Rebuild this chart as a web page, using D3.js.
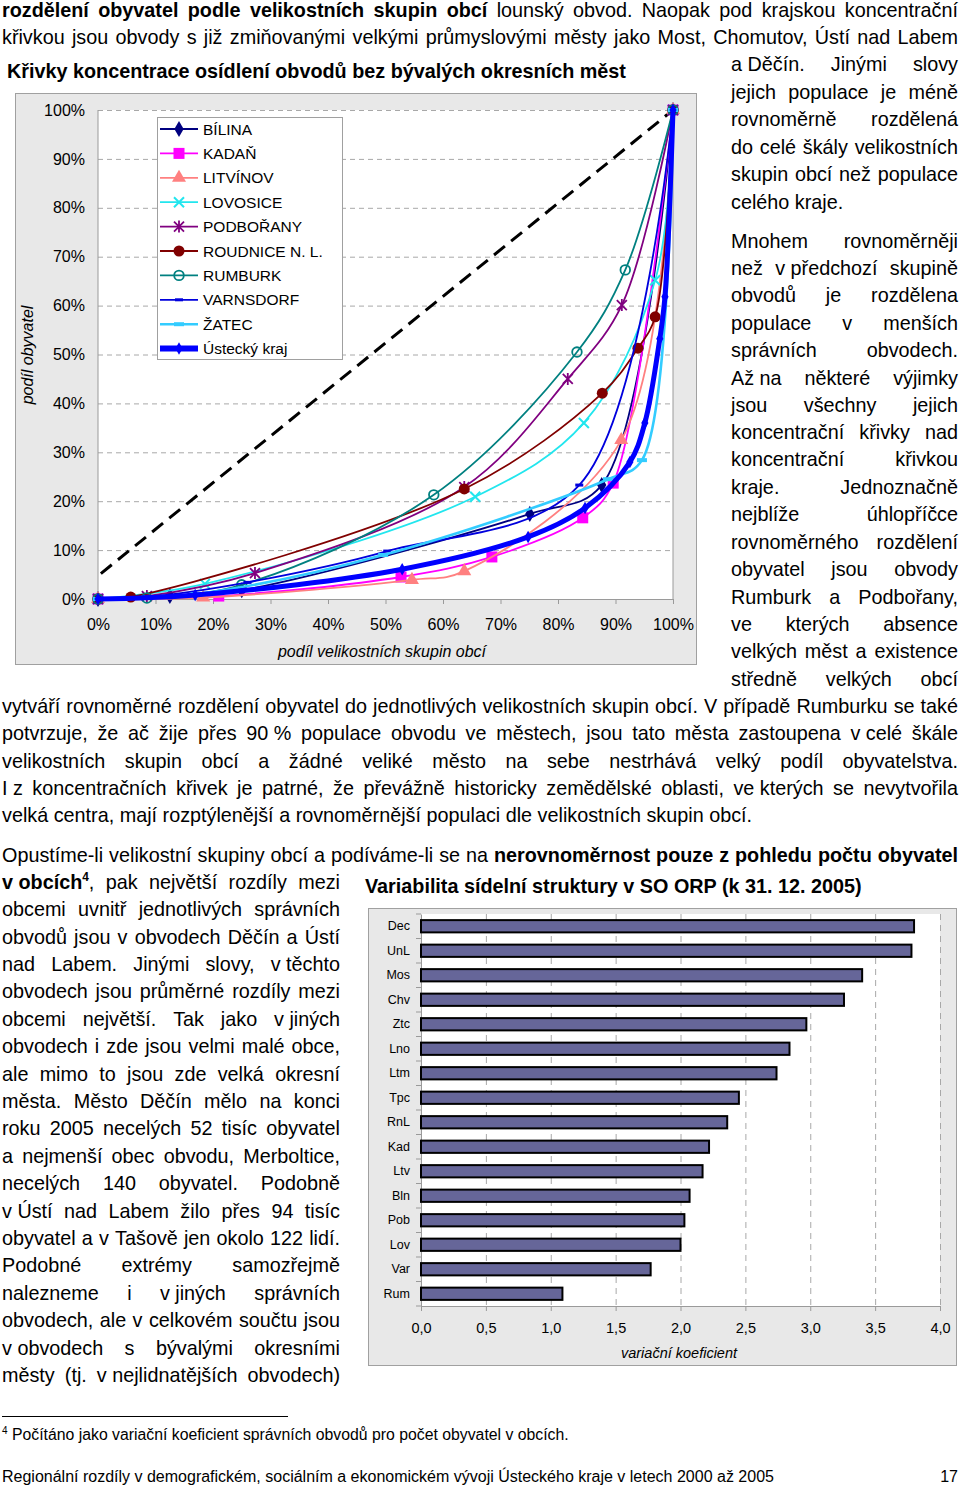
<!DOCTYPE html>
<html>
<head>
<meta charset="utf-8">
<script src="https://cdn.jsdelivr.net/npm/d3@7"></script>
<style>
  body { margin: 0; background: #fff; }
  svg { display: block; font-family: "Liberation Sans", Arial, sans-serif; }
</style>
</head>
<body>
<svg id="page" width="960" height="1486"></svg>
<script>
// ---------- chart 1 data: concentration curves (x = % of size groups, y = % of population)
const pctTicks = [0, 10, 20, 30, 40, 50, 60, 70, 80, 90, 100];
const equalityLine = [[0.5, 5.2], [100, 100]];
const bilina = [[0, 0], [12.5, 0.6], [25, 1.8], [75.1, 17.4], [87.6, 23.3], [100, 100]];
const kadan = [[0, 0], [21, 0.6], [52.7, 4.5], [68.5, 8.6], [84.3, 16.6], [89.6, 23.7], [100, 100]];
const litvinov = [[0, 0], [18.3, 0.3], [54.6, 3.9], [63.7, 5.7], [91, 32.5], [100, 100]];
const lovosice = [[0, 0], [18.6, 3.1], [65.6, 20.9], [84.5, 36], [96.9, 65.2], [100, 100]];
const podborany = [[0, 0], [8.5, 0.6], [27.3, 5.3], [63.7, 22.9], [81.7, 45], [91.1, 60.1], [100, 100]];
const roudnice = [[0, 0], [5.7, 0.4], [63.7, 22.5], [87.7, 42.1], [93.9, 51.3], [96.9, 57.7], [100, 100]];
const rumburk = [[0, 0], [8.5, 0.2], [25, 2.9], [58.4, 21.3], [83.3, 50.5], [91.7, 67.3], [100, 100]];
const varnsdorf = [[0, 0], [8.5, 0.4], [26, 3.4], [50.3, 9.8], [83.7, 23.3], [100, 100]];
const zatec = [[0, 0], [17, 1], [49.6, 9], [88.7, 24.5], [94.6, 28.4], [100, 100]];
const kraj = [[0, 0], [16.9, 0.8], [52.9, 6.1], [74.8, 12.7], [84.7, 18.6], [92.5, 28], [95.1, 36], [97.7, 53.2], [98.6, 61.8], [100, 100]];

// ---------- chart 2 data: variation coefficient by SO ORP
const orpNames = ["Dec", "UnL", "Mos", "Chv", "Ztc", "Lno", "Ltm", "Tpc", "RnL", "Kad", "Ltv", "Bln", "Pob", "Lov", "Var", "Rum"];
const orpValues = [3.80, 3.78, 3.40, 3.26, 2.97, 2.84, 2.74, 2.45, 2.36, 2.22, 2.17, 2.07, 2.03, 2.00, 1.77, 1.09];
const coefTicks = [0, 0.5, 1, 1.5, 2, 2.5, 3, 3.5, 4];

const series = [
  { name: "BÍLINA", data: bilina, color: "#000080", width: 1.8, marker: "diamond" },
  { name: "KADAŇ", data: kadan, color: "#ff00ff", width: 1.8, marker: "square" },
  { name: "LITVÍNOV", data: litvinov, color: "#ff8080", width: 1.8, marker: "triangle" },
  { name: "LOVOSICE", data: lovosice, color: "#22e6ee", width: 1.8, marker: "cross" },
  { name: "PODBOŘANY", data: podborany, color: "#800080", width: 1.8, marker: "star" },
  { name: "ROUDNICE N. L.", data: roudnice, color: "#800000", width: 1.8, marker: "dot" },
  { name: "RUMBURK", data: rumburk, color: "#008080", width: 1.8, marker: "ring" },
  { name: "VARNSDORF", data: varnsdorf, color: "#0000dd", width: 1.8, marker: "dash" },
  { name: "ŽATEC", data: zatec, color: "#33ccff", width: 2.6, marker: "bar" },
  { name: "Ústecký kraj", data: kraj, color: "#0000ff", width: 5, marker: "smalldiamond" }
];

// ---------- body text lines
const B = 19.8; // body font size
const textLines = [
  { x: 2, y: 10, w: 956, j: true, seg: [{ t: "rozdělení obyvatel podle velikostních skupin obcí", b: true }, { t: " lounský obvod. Naopak pod krajskou koncentrační" }] },
  { x: 2, y: 37, w: 956, j: true, seg: [{ t: "křivkou jsou obvody s již zmiňovanými velkými průmyslovými městy jako Most, Chomutov, Ústí nad Labem" }] },
  { x: 731, y: 64, w: 227, j: true, seg: [{ t: "a\u00a0Děčín. Jinými slovy" }] },
  { x: 731, y: 92, w: 227, j: true, seg: [{ t: "jejich populace je méně" }] },
  { x: 731, y: 119, w: 227, j: true, seg: [{ t: "rovnoměrně rozdělená" }] },
  { x: 731, y: 147, w: 227, j: true, seg: [{ t: "do celé škály velikostních" }] },
  { x: 731, y: 174, w: 227, j: true, seg: [{ t: "skupin obcí než populace" }] },
  { x: 731, y: 202, w: 227, j: false, seg: [{ t: "celého kraje." }] },
  { x: 731, y: 241, w: 227, j: true, seg: [{ t: "Mnohem rovnoměrněji" }] },
  { x: 731, y: 268, w: 227, j: true, seg: [{ t: "než v\u00a0předchozí skupině" }] },
  { x: 731, y: 295, w: 227, j: true, seg: [{ t: "obvodů je rozdělena" }] },
  { x: 731, y: 323, w: 227, j: true, seg: [{ t: "populace v menších" }] },
  { x: 731, y: 350, w: 227, j: true, seg: [{ t: "správních obvodech." }] },
  { x: 731, y: 378, w: 227, j: true, seg: [{ t: "Až\u00a0na některé výjimky" }] },
  { x: 731, y: 405, w: 227, j: true, seg: [{ t: "jsou všechny jejich" }] },
  { x: 731, y: 432, w: 227, j: true, seg: [{ t: "koncentrační křivky nad" }] },
  { x: 731, y: 459, w: 227, j: true, seg: [{ t: "koncentrační křivkou" }] },
  { x: 731, y: 487, w: 227, j: true, seg: [{ t: "kraje. Jednoznačně" }] },
  { x: 731, y: 514, w: 227, j: true, seg: [{ t: "nejblíže úhlopříčce" }] },
  { x: 731, y: 542, w: 227, j: true, seg: [{ t: "rovnoměrného rozdělení" }] },
  { x: 731, y: 569, w: 227, j: true, seg: [{ t: "obyvatel jsou obvody" }] },
  { x: 731, y: 597, w: 227, j: true, seg: [{ t: "Rumburk a Podbořany," }] },
  { x: 731, y: 624, w: 227, j: true, seg: [{ t: "ve kterých absence" }] },
  { x: 731, y: 651, w: 227, j: true, seg: [{ t: "velkých měst a existence" }] },
  { x: 731, y: 679, w: 227, j: true, seg: [{ t: "středně velkých obcí" }] },
  { x: 2, y: 706, w: 956, j: true, seg: [{ t: "vytváří rovnoměrné rozdělení obyvatel do jednotlivých velikostních skupin obcí. V případě Rumburku se také" }] },
  { x: 2, y: 733, w: 956, j: true, seg: [{ t: "potvrzuje, že ač žije přes 90\u00a0% populace obvodu ve městech, jsou tato města zastoupena v\u00a0celé škále" }] },
  { x: 2, y: 761, w: 956, j: true, seg: [{ t: "velikostních skupin obcí a žádné veliké město na sebe nestrhává velký podíl obyvatelstva." }] },
  { x: 2, y: 788, w: 956, j: true, seg: [{ t: "I\u00a0z koncentračních křivek je patrné, že převážně historicky zemědělské oblasti, ve\u00a0kterých se nevytvořila" }] },
  { x: 2, y: 815, w: 956, j: false, seg: [{ t: "velká centra, mají rozptýlenější a rovnoměrnější populaci dle velikostních skupin obcí." }] },
  { x: 2, y: 855, w: 956, j: true, seg: [{ t: "Opustíme-li velikostní skupiny obcí a podíváme-li se na " }, { t: "nerovnoměrnost pouze z pohledu počtu obyvatel", b: true }] },
  { x: 2, y: 882, w: 338, j: true, seg: [{ t: "v\u00a0obcích", b: true }, { t: "4", b: true, sup: true }, { t: ", pak největší rozdíly mezi" }] },
  { x: 2, y: 909, w: 338, j: true, seg: [{ t: "obcemi uvnitř jednotlivých správních" }] },
  { x: 2, y: 937, w: 338, j: true, seg: [{ t: "obvodů jsou v obvodech Děčín a Ústí" }] },
  { x: 2, y: 964, w: 338, j: true, seg: [{ t: "nad Labem. Jinými slovy, v\u00a0těchto" }] },
  { x: 2, y: 991, w: 338, j: true, seg: [{ t: "obvodech jsou průměrné rozdíly mezi" }] },
  { x: 2, y: 1019, w: 338, j: true, seg: [{ t: "obcemi největší. Tak jako v\u00a0jiných" }] },
  { x: 2, y: 1046, w: 338, j: true, seg: [{ t: "obvodech i zde jsou velmi malé obce," }] },
  { x: 2, y: 1074, w: 338, j: true, seg: [{ t: "ale mimo to jsou zde velká okresní" }] },
  { x: 2, y: 1101, w: 338, j: true, seg: [{ t: "města. Město Děčín mělo na konci" }] },
  { x: 2, y: 1128, w: 338, j: true, seg: [{ t: "roku 2005 necelých 52 tisíc obyvatel" }] },
  { x: 2, y: 1156, w: 338, j: true, seg: [{ t: "a nejmenší obec obvodu, Merboltice," }] },
  { x: 2, y: 1183, w: 338, j: true, seg: [{ t: "necelých 140 obyvatel. Podobně" }] },
  { x: 2, y: 1211, w: 338, j: true, seg: [{ t: "v\u00a0Ústí nad Labem žilo přes 94 tisíc" }] },
  { x: 2, y: 1238, w: 338, j: true, seg: [{ t: "obyvatel a v Tašově jen okolo 122 lidí." }] },
  { x: 2, y: 1265, w: 338, j: true, seg: [{ t: "Podobné extrémy samozřejmě" }] },
  { x: 2, y: 1293, w: 338, j: true, seg: [{ t: "nalezneme i v\u00a0jiných správních" }] },
  { x: 2, y: 1320, w: 338, j: true, seg: [{ t: "obvodech, ale v celkovém součtu jsou" }] },
  { x: 2, y: 1348, w: 338, j: true, seg: [{ t: "v\u00a0obvodech s bývalými okresními" }] },
  { x: 2, y: 1375, w: 338, j: true, seg: [{ t: "městy (tj. v\u00a0nejlidnatějších obvodech)" }] }
];

const page = d3.select("#page");

// lay out one line: split into words, measure them, spread them over the width
function layoutLine(L, size) {
  const groups = [[]];
  L.seg.forEach(s => {
    s.t.split(" ").forEach((p, i) => {
      if (i > 0) groups.push([]);
      if (p.length) groups[groups.length - 1].push({ t: p, b: s.b, sup: s.sup });
    });
  });
  const words = groups.filter(g => g.length);
  const nodes = words.map(g => {
    const t = page.append("text")
      .attr("y", L.y + size * 0.36)
      .attr("font-size", size)
      .attr("fill", "#000");
    let raised = false;
    g.forEach(s => {
      const ts = t.append("tspan").text(s.t);
      if (s.b) ts.attr("font-weight", "bold");
      if (s.sup) { ts.attr("font-size", size * 0.6).attr("dy", -size * 0.4); raised = true; }
      else if (raised) { ts.attr("dy", size * 0.4); raised = false; }
    });
    return t;
  });
  let widths = nodes.map(n => n.node().getComputedTextLength());
  let total = d3.sum(widths);
  const minGap = size * 0.2;
  // squeeze slightly if a line is too long for its column
  if (L.j && total + minGap * (nodes.length - 1) > L.w) {
    const k = (L.w - minGap * (nodes.length - 1)) / total;
    nodes.forEach((n, i) => n.attr("textLength", widths[i] * k).attr("lengthAdjust", "spacingAndGlyphs"));
    widths = widths.map(w => w * k);
    total = d3.sum(widths);
  }
  const gap = (L.j && nodes.length > 1) ? (L.w - total) / (nodes.length - 1) : size * 0.278;
  let x = L.x;
  nodes.forEach((n, i) => { n.attr("x", x); x += widths[i] + gap; });
}

textLines.forEach(L => layoutLine(L, B));

// ================= CHART 1: concentration curves =================
page.append("text")
  .attr("x", 7).attr("y", 71 + 7)
  .attr("font-size", 19.8).attr("font-weight", "bold")
  .text("Křivky koncentrace osídlení obvodů bez bývalých okresních měst");

const c1 = page.append("g");
c1.append("rect")
  .attr("x", 15.5).attr("y", 93.5).attr("width", 681).attr("height", 571)
  .attr("fill", "#e8e8e8").attr("stroke", "#a0a0a0");

const x1 = d3.scaleLinear().domain([0, 100]).range([98, 673]);
const y1 = d3.scaleLinear().domain([0, 100]).range([599, 110]);

c1.append("rect")
  .attr("x", x1(0)).attr("y", y1(100))
  .attr("width", x1(100) - x1(0)).attr("height", y1(0) - y1(100))
  .attr("fill", "#fff");

// dashed gridlines
c1.append("g")
  .attr("transform", `translate(${x1(0)},0)`)
  .call(d3.axisLeft(y1).tickValues(pctTicks.slice(1)).tickSize(-(x1(100) - x1(0))).tickFormat(""))
  .call(g => g.select(".domain").remove())
  .call(g => g.selectAll("line").attr("stroke", "#a8a8a8").attr("stroke-dasharray", "5,4"));

// plot borders
c1.append("line").attr("x1", x1(0)).attr("x2", x1(0)).attr("y1", y1(100)).attr("y2", y1(0)).attr("stroke", "#9a9a9a");
c1.append("line").attr("x1", x1(100)).attr("x2", x1(100)).attr("y1", y1(100)).attr("y2", y1(0)).attr("stroke", "#9a9a9a");

// x axis
c1.append("g")
  .attr("transform", `translate(0,${y1(0)})`)
  .call(d3.axisBottom(x1).tickValues(pctTicks).tickSize(5).tickPadding(15).tickFormat(d => d + "%"))
  .call(g => g.select(".domain").attr("stroke", "#9a9a9a"))
  .call(g => g.selectAll("line").attr("stroke", "#9a9a9a"))
  .call(g => g.selectAll("text").attr("font-size", 16).attr("fill", "#000").attr("font-family", null));

// y axis labels
c1.append("g")
  .attr("transform", `translate(${x1(0)},0)`)
  .call(d3.axisLeft(y1).tickValues(pctTicks).tickSize(0).tickPadding(13).tickFormat(d => d + "%"))
  .call(g => g.select(".domain").remove())
  .call(g => g.selectAll("text").attr("font-size", 16).attr("fill", "#000").attr("font-family", null));

c1.append("text")
  .attr("transform", "translate(33,355) rotate(-90)")
  .attr("text-anchor", "middle").attr("font-size", 16).attr("font-style", "italic")
  .text("podíl obyvatel");
c1.append("text")
  .attr("x", 382).attr("y", 657)
  .attr("text-anchor", "middle").attr("font-size", 16).attr("font-style", "italic")
  .text("podíl velikostních skupin obcí");

function marker(g, type, cx, cy, c) {
  const tr = `translate(${cx},${cy})`;
  switch (type) {
    case "diamond":
      g.append("path").attr("d", d3.symbol(d3.symbolDiamond, 75)()).attr("transform", tr).attr("fill", c); break;
    case "smalldiamond":
      g.append("path").attr("d", d3.symbol(d3.symbolDiamond, 45)()).attr("transform", tr).attr("fill", c); break;
    case "square":
      g.append("rect").attr("x", cx - 5.5).attr("y", cy - 5.5).attr("width", 11).attr("height", 11).attr("fill", c); break;
    case "triangle":
      g.append("path").attr("d", d3.symbol(d3.symbolTriangle, 85)()).attr("transform", tr).attr("fill", c); break;
    case "cross":
      g.append("path").attr("d", "M-5,-5L5,5M-5,5L5,-5").attr("transform", tr).attr("stroke", c).attr("stroke-width", 2).attr("fill", "none"); break;
    case "star":
      g.append("path").attr("d", "M-5,-5L5,5M-5,5L5,-5M0,-6L0,6").attr("transform", tr).attr("stroke", c).attr("stroke-width", 1.8).attr("fill", "none"); break;
    case "dot":
      g.append("circle").attr("cx", cx).attr("cy", cy).attr("r", 5.5).attr("fill", c); break;
    case "ring":
      g.append("circle").attr("cx", cx).attr("cy", cy).attr("r", 4.8).attr("fill", "none").attr("stroke", c).attr("stroke-width", 1.8); break;
    case "dash":
      g.append("rect").attr("x", cx - 4).attr("y", cy - 1.5).attr("width", 8).attr("height", 3).attr("fill", c); break;
    case "bar":
      g.append("rect").attr("x", cx - 5).attr("y", cy - 2).attr("width", 10).attr("height", 4).attr("fill", c); break;
  }
}

// line of equal distribution
c1.append("path")
  .attr("d", d3.line().x(d => x1(d[0])).y(d => y1(d[1]))(equalityLine))
  .attr("fill", "none").attr("stroke", "#000").attr("stroke-width", 3).attr("stroke-dasharray", "14,8");

const curve = d3.line().x(d => x1(d[0])).y(d => y1(d[1])).curve(d3.curveCatmullRom.alpha(0.5));
series.forEach(s => {
  const g = c1.append("g");
  g.append("path").attr("d", curve(s.data))
    .attr("fill", "none").attr("stroke", s.color).attr("stroke-width", s.width).attr("stroke-linejoin", "round");
  s.data.forEach(d => marker(g, s.marker, x1(d[0]), y1(d[1]), s.color));
});

// legend
const lg = c1.append("g");
lg.append("rect").attr("x", 157.5).attr("y", 117.5).attr("width", 185).attr("height", 242)
  .attr("fill", "#fff").attr("stroke", "#a0a0a0");
series.forEach((s, i) => {
  const yy = 129 + i * 24.4;
  lg.append("line").attr("x1", 160).attr("x2", 198).attr("y1", yy).attr("y2", yy)
    .attr("stroke", s.color).attr("stroke-width", s.name === "Ústecký kraj" ? 6 : s.width);
  marker(lg, s.marker, 179, yy, s.color);
  lg.append("text").attr("x", 203).attr("y", yy + 5.5).attr("font-size", 15.5).text(s.name);
});

// ================= CHART 2: variation coefficient bars =================
page.append("text")
  .attr("x", 365).attr("y", 886 + 7)
  .attr("font-size", 19.8).attr("font-weight", "bold")
  .text("Variabilita sídelní struktury v SO ORP (k 31. 12. 2005)");

const c2 = page.append("g");
c2.append("rect")
  .attr("x", 368.5).attr("y", 908.5).attr("width", 588).attr("height", 457)
  .attr("fill", "#e8e8e8").attr("stroke", "#a0a0a0");

const x2 = d3.scaleLinear().domain([0, 4]).range([421, 940]);
const y2 = d3.scaleBand().domain(orpNames).range([914, 1306]).paddingInner(0.5).paddingOuter(0.25);

c2.append("rect").attr("x", x2(0)).attr("y", 914).attr("width", x2(4) - x2(0)).attr("height", 1306 - 914).attr("fill", "#fff");

// vertical dashed gridlines
c2.append("g")
  .attr("transform", "translate(0,914)")
  .call(d3.axisBottom(x2).tickValues(coefTicks.slice(1)).tickSize(1306 - 914).tickFormat(""))
  .call(g => g.select(".domain").remove())
  .call(g => g.selectAll("line").attr("stroke", "#a8a8a8").attr("stroke-dasharray", "6,5"));

// x axis
c2.append("g")
  .attr("transform", "translate(0,1306)")
  .call(d3.axisBottom(x2).tickValues(coefTicks).tickSize(5).tickPadding(12).tickFormat(d => d3.format(".1f")(d).replace(".", ",")))
  .call(g => g.select(".domain").attr("stroke", "#9a9a9a"))
  .call(g => g.selectAll("line").attr("stroke", "#9a9a9a"))
  .call(g => g.selectAll("text").attr("font-size", 14.5).attr("fill", "#000").attr("font-family", null));

// y axis with category labels
c2.append("g")
  .attr("transform", `translate(${x2(0)},0)`)
  .call(d3.axisLeft(y2).tickSize(0).tickPadding(11))
  .call(g => g.select(".domain").attr("stroke", "#9a9a9a"))
  .call(g => g.selectAll("text").attr("font-size", 12.5).attr("fill", "#000").attr("font-family", null));

// ticks between categories
c2.append("g").selectAll("line")
  .data(d3.range(orpNames.length + 1))
  .join("line")
  .attr("x1", x2(0) - 5).attr("x2", x2(0))
  .attr("y1", i => 914 + i * y2.step()).attr("y2", i => 914 + i * y2.step())
  .attr("stroke", "#9a9a9a");

c2.append("g").selectAll("rect")
  .data(orpNames)
  .join("rect")
  .attr("x", x2(0))
  .attr("y", d => y2(d))
  .attr("width", (d, i) => x2(orpValues[i]) - x2(0))
  .attr("height", y2.bandwidth())
  .attr("fill", "#666699").attr("stroke", "#000").attr("stroke-width", 2);

c2.append("text")
  .attr("x", 679).attr("y", 1358)
  .attr("text-anchor", "middle").attr("font-size", 14.5).attr("font-style", "italic")
  .text("variační koeficient");

// ================= footnote and footer =================
page.append("line").attr("x1", 2).attr("x2", 288).attr("y1", 1416.5).attr("y2", 1416.5).attr("stroke", "#000");
const fn = page.append("text").attr("x", 2).attr("y", 1440).attr("font-size", 15.8);
fn.append("tspan").attr("font-size", 10).attr("dy", -6).text("4");
fn.append("tspan").attr("dy", 6).text(" Počítáno jako variační koeficient správních obvodů pro počet obyvatel v obcích.");

page.append("text").attr("x", 2).attr("y", 1482).attr("font-size", 16)
  .text("Regionální rozdíly v demografickém, sociálním a ekonomickém vývoji Ústeckého kraje v letech 2000 až 2005");
page.append("text").attr("x", 958).attr("y", 1482).attr("font-size", 16).attr("text-anchor", "end").text("17");
</script>
</body>
</html>
